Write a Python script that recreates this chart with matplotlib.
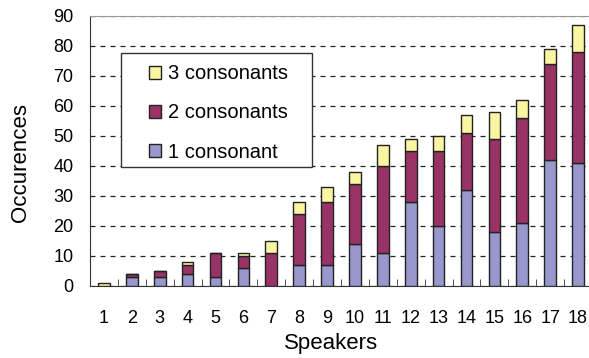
import matplotlib.pyplot as plt
from matplotlib.patches import Rectangle

plt.rcParams['font.family'] = ['Liberation Sans', 'DejaVu Sans']

# Dados
falantes = list(range(1, 19))
uma_consoante = [0, 3, 3, 4, 3, 6, 0, 7, 7, 14, 11, 28, 20, 32, 18, 21, 42, 41]
duas_consoantes = [0, 1, 2, 3, 8, 4, 11, 17, 21, 20, 29, 17, 25, 19, 31, 35, 32, 37]
tres_consoantes = [1, 0, 0, 1, 0, 1, 4, 4, 5, 4, 7, 4, 5, 6, 9, 6, 5, 9]

rotulos = ['1 consonant', '2 consonants', '3 consonants']
cores = ['#9898CC', '#993366', '#FAF5A0']

fig = plt.figure(figsize=(5.89, 3.58), dpi=100)
ax = fig.add_axes([90 / 589, 72 / 358, 502 / 589, 270 / 358])

base2 = uma_consoante
base3 = [a + b for a, b in zip(uma_consoante, duas_consoantes)]
largura = 0.42
estilo = dict(width=largura, edgecolor='#222222', linewidth=1.0, zorder=3)
b1 = ax.bar(falantes, uma_consoante, color=cores[0], label=rotulos[0], **estilo)
b2 = ax.bar(falantes, duas_consoantes, bottom=base2, color=cores[1], label=rotulos[1], **estilo)
b3 = ax.bar(falantes, tres_consoantes, bottom=base3, color=cores[2], label=rotulos[2], **estilo)

ax.set_xlim(0.5, 18.5)
ax.set_ylim(0, 90)
ax.set_yticks(range(0, 91, 10))
ax.set_xticks(falantes)
ax.set_xticks([x + 0.5 for x in falantes[:-1]], minor=True)

ax.yaxis.grid(True, linestyle=(0, (4, 4)), color='#222222', linewidth=0.9, zorder=0)
ax.set_axisbelow(True)

ax.tick_params(axis='y', length=0, pad=12, labelsize=13)
ax.tick_params(axis='x', which='major', length=0, pad=17, labelsize=13)
ax.tick_params(axis='x', which='minor', direction='in', length=5, color='#333333')

ax.spines['right'].set_visible(False)
ax.spines['top'].set_color('#999999')
ax.spines['left'].set_color('#333333')
ax.spines['bottom'].set_color('#333333')

ax.set_xlabel('Speakers', fontsize=16)
ax.set_ylabel('Occurences', fontsize=16)
ax.xaxis.set_label_coords(0.48, -0.175)
ax.yaxis.set_label_coords(-0.118, 0.459)

# Caixa da legenda desenhada à parte
caixa = Rectangle((0.0618, 0.441), 0.380, 0.422, transform=ax.transAxes,
                  facecolor='white', edgecolor='#333333', linewidth=1.0, zorder=4)
ax.add_patch(caixa)
leg = ax.legend([b3, b2, b1], [rotulos[2], rotulos[1], rotulos[0]],
                loc='upper left', bbox_to_anchor=(0.1175, 0.821), borderaxespad=0,
                frameon=False, fontsize=14.5, handlelength=0.6, handleheight=0.6,
                handletextpad=0.35, labelspacing=1.0, borderpad=0)
leg.set_zorder(5)

plt.savefig('out.png', dpi=100)
